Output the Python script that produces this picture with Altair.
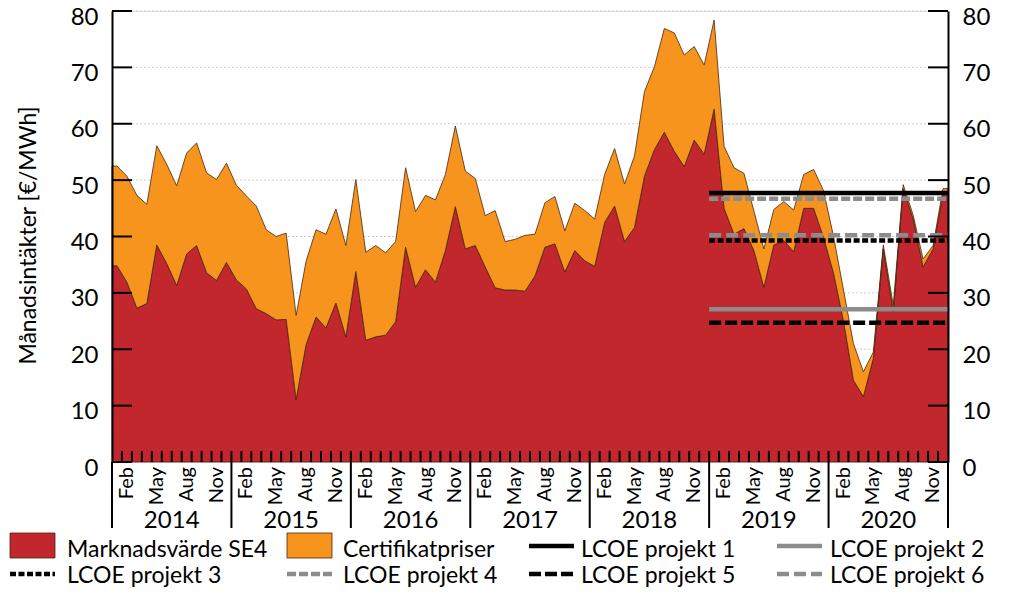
import altair as alt
import pandas as pd

# ---------------- data ----------------
years = ["2014", "2015", "2016", "2017", "2018", "2019", "2020"]
month_names = ["Feb", "May", "Aug", "Nov"]
month_name_index = [1, 4, 7, 10]

# Marknadsvärde SE4, monthly Jan 2014 .. Dec 2020 (EUR/MWh)
market = [
    34.8, 31.9, 27.3, 28.1, 38.5, 35.2, 31.3, 36.9, 38.4, 33.6, 32.2, 35.4,
    32.3, 30.7, 27.2, 26.3, 25.2, 25.3, 11.1, 20.8, 25.7, 23.8, 28.2, 22.2,
    33.8, 21.6, 22.2, 22.5, 24.9, 38.1, 31.0, 34.1, 31.9, 37.5, 45.3, 37.8,
    38.4, 34.6, 30.9, 30.5, 30.5, 30.3, 33.0, 38.1, 38.7, 33.7, 37.5, 35.7,
    34.7, 42.5, 45.4, 39.1, 41.6, 50.7, 55.4, 58.5, 55.1, 52.4, 57.1, 54.6,
    62.6, 45.0, 40.4, 41.4, 37.5, 31.0, 38.5, 39.3, 37.3, 45.0, 45.0, 39.8,
    33.5, 25.0, 14.5, 11.6, 18.4, 37.8, 26.6, 48.5, 43.1, 34.6, 37.8, 47.5,
]
# Certifikatpriser, stacked on top (EUR/MWh)
cert = [
    17.7, 18.8, 20.0, 17.6, 17.6, 17.6, 17.7, 17.9, 18.2, 17.7, 17.9, 17.6,
    16.8, 16.5, 18.2, 14.9, 14.8, 15.3, 14.9, 14.8, 15.5, 16.6, 16.7, 16.2,
    16.3, 15.6, 16.2, 14.6, 14.2, 14.1, 13.4, 13.2, 14.6, 13.5, 14.3, 13.8,
    11.9, 9.1, 13.7, 8.6, 9.0, 9.9, 7.4, 7.9, 8.4, 7.3, 8.4, 8.9,
    8.4, 8.5, 10.2, 10.2, 12.7, 15.0, 14.7, 18.4, 21.0, 19.8, 16.6, 15.8,
    15.8, 11.0, 11.8, 9.8, 7.0, 6.8, 6.3, 6.9, 7.4, 6.0, 6.9, 8.3,
    6.5, 5.5, 6.5, 4.4, 1.1, 0.7, 1.2, 0.7, 0.7, 1.4, 0.6, 1.0,
]

lcoe_names = ["LCOE projekt 1", "LCOE projekt 2", "LCOE projekt 3",
              "LCOE projekt 4", "LCOE projekt 5", "LCOE projekt 6"]
lcoe_values = [47.7, 27.1, 39.3, 46.7, 24.7, 40.2]
lcoe_first_month = 60
lcoe_last_month = 83

y_ticks = [0, 10, 20, 30, 40, 50, 60, 70, 80]

# ---------------- styles ----------------
RED = "#C1272D"
ORANGE = "#F7941D"
OUTLINE = "#4a2510"
GRAY = "#8c8c8c"
FONT = "Lato"
lcoe_colors = ["#000000", GRAY, "#000000", GRAY, "#000000", GRAY]
lcoe_dash = [[1, 0], [1, 0], [6, 2.5], [9, 3], [12, 4], [12, 5]]

W, H = 836, 451
n = len(market)

xs = alt.Scale(domain=[-0.5, n - 0.5], nice=False, zero=False)
ys = alt.Scale(domain=[0, 80], nice=False, zero=True)

# area table (first/last value held to the plot edges)
idx = [-0.5] + list(range(n)) + [n - 0.5]
area_df = pd.DataFrame({
    "x": idx,
    "m": [market[0]] + market + [market[-1]],
    "c": [cert[0]] + cert + [cert[-1]],
})

layers = []

# gridlines
layers.append(
    alt.Chart(pd.DataFrame({"v": y_ticks[1:]}))
    .mark_rule(stroke="#cfcfcf", strokeWidth=1, strokeDash=[2, 2])
    .encode(y=alt.Y("v:Q", scale=ys, axis=None), x=alt.value(0), x2=alt.value(W))
)

left_axis = alt.Axis(
    values=y_ticks, orient="left", grid=False, ticks=False, tickSize=0,
    domainColor="black", domainWidth=2, labelFont=FONT, labelFontSize=24,
    labelColor="black", labelPadding=14, labelOffset=6, labelOverlap=False,
    labelBound=False, labelFlush=False,
    title="Månadsintäkter [€/MWh]", titleFont=FONT, titleFontSize=23,
    titleFontWeight="normal", titleColor="black", titleAngle=270,
    titleX=-84, titleY=224, titleAlign="center", titleBaseline="middle",
    zindex=1,
)
right_axis = alt.Axis(
    values=y_ticks, orient="right", grid=False, ticks=False, tickSize=0,
    domainColor="black", domainWidth=2, labelFont=FONT, labelFontSize=24,
    labelColor="black", labelPadding=14, labelOffset=6, labelOverlap=False,
    labelBound=False, labelFlush=False, title=None, zindex=1,
)
x_axis = alt.Axis(labels=False, ticks=False, grid=False, domainColor="black",
                  domainWidth=2, title=None, zindex=1)

# market area
layers.append(
    alt.Chart(area_df)
    .mark_area(fill=RED, stroke=OUTLINE, strokeWidth=0.8)
    .encode(x=alt.X("x:Q", scale=xs, axis=x_axis),
            y=alt.Y("m:Q", scale=ys, axis=left_axis))
)
# certificate area stacked on top
layers.append(
    alt.Chart(area_df)
    .transform_calculate(total="datum.m + datum.c")
    .mark_area(fill=ORANGE, stroke=OUTLINE, strokeWidth=0.8)
    .encode(x=alt.X("x:Q", scale=xs, axis=None),
            y=alt.Y("total:Q", scale=ys, axis=right_axis),
            y2="m:Q")
)

# LCOE lines
for name, val, col, dash in zip(lcoe_names, lcoe_values, lcoe_colors, lcoe_dash):
    layers.append(
        alt.Chart(pd.DataFrame({"a": [lcoe_first_month - 0.5],
                                "b": [lcoe_last_month + 0.5], "v": [val]}))
        .mark_rule(stroke=col, strokeWidth=4.5, strokeDash=dash)
        .encode(x=alt.X("a:Q", scale=xs, axis=None), x2="b:Q",
                y=alt.Y("v:Q", scale=ys, axis=None))
    )

# y ticks (inward), left and right
ytick_df = pd.DataFrame({"v": y_ticks})
layers.append(
    alt.Chart(ytick_df).mark_rule(stroke="black", strokeWidth=2)
    .encode(y=alt.Y("v:Q", scale=ys, axis=None), x=alt.value(0), x2=alt.value(20))
)
layers.append(
    alt.Chart(ytick_df).mark_rule(stroke="black", strokeWidth=2)
    .encode(y=alt.Y("v:Q", scale=ys, axis=None), x=alt.value(W - 20), x2=alt.value(W))
)

# month ticks (inward) and year separators
layers.append(
    alt.Chart(pd.DataFrame({"b": [k - 0.5 for k in range(1, n)]}))
    .mark_rule(stroke="black", strokeWidth=2)
    .encode(x=alt.X("b:Q", scale=xs, axis=None), y=alt.value(H - 11), y2=alt.value(H))
)
layers.append(
    alt.Chart(pd.DataFrame({"b": [12 * k - 0.5 for k in range(len(years) + 1)]}))
    .mark_rule(stroke="black", strokeWidth=2)
    .encode(x=alt.X("b:Q", scale=xs, axis=None), y=alt.value(H), y2=alt.value(H + 66))
)

# month labels
ml_df = pd.DataFrame({
    "p": [12 * k + m for k in range(len(years)) for m in month_name_index],
    "t": [nm for k in range(len(years)) for nm in month_names],
})
layers.append(
    alt.Chart(ml_df)
    .mark_text(angle=270, align="right", baseline="middle", font=FONT,
               fontSize=20, color="black")
    .encode(x=alt.X("p:Q", scale=xs, axis=None), y=alt.value(H + 5), text="t:N")
)
# year labels
yl_df = pd.DataFrame({"p": [12 * k + 5.5 for k in range(len(years))], "t": years})
layers.append(
    alt.Chart(yl_df)
    .mark_text(align="center", baseline="alphabetic", font=FONT, fontSize=24,
               color="black")
    .encode(x=alt.X("p:Q", scale=xs, axis=None), y=alt.value(H + 66), text="t:N")
)

# ---------------- legend ----------------
one = pd.DataFrame({"k": [0]})


def legend_text(label, x, y):
    return (alt.Chart(one)
            .mark_text(text=label, align="left", baseline="alphabetic", font=FONT,
                       fontSize=23, color="black")
            .encode(x=alt.value(x), y=alt.value(y)))


def legend_box(fill, x, y):
    return (alt.Chart(one)
            .mark_rect(fill=fill, stroke=OUTLINE, strokeWidth=0.8)
            .encode(x=alt.value(x), x2=alt.value(x + 45), y=alt.value(y),
                    y2=alt.value(y + 25)))


def legend_line(col, dash, x, y):
    return (alt.Chart(one)
            .mark_rule(stroke=col, strokeWidth=4.5, strokeDash=dash)
            .encode(x=alt.value(x), x2=alt.value(x + 45), y=alt.value(y)))


row1_box_y, row1_line_y, row1_text_y = 522, 535, 546
row2_line_y, row2_text_y = 563, 572
cols = [(-102, -45), (175, 231), (417, 469), (665, 718)]

layers += [
    legend_box(RED, cols[0][0], row1_box_y),
    legend_text("Marknadsvärde SE4", cols[0][1], row1_text_y),
    legend_box(ORANGE, cols[1][0], row1_box_y),
    legend_text("Certifikatpriser", cols[1][1], row1_text_y),
]
legend_slots = [
    (0, cols[2], row1_line_y, row1_text_y),
    (1, cols[3], row1_line_y, row1_text_y),
    (2, cols[0], row2_line_y, row2_text_y),
    (3, cols[1], row2_line_y, row2_text_y),
    (4, cols[2], row2_line_y, row2_text_y),
    (5, cols[3], row2_line_y, row2_text_y),
]
for k, (sx, tx), ly, ty in legend_slots:
    layers.append(legend_line(lcoe_colors[k], lcoe_dash[k], sx, ly))
    layers.append(legend_text(lcoe_names[k], tx, ty))

chart = (
    alt.layer(*layers)
    .resolve_scale(y="shared")
    .resolve_axis(y="independent")
    .properties(width=W, height=H,
                padding={"left": 104, "right": 68, "top": 3, "bottom": 125},
                autosize=alt.AutoSizeParams(type="none"))
    .configure_view(stroke=None)
    .configure(font=FONT)
)

chart.save("out.html", embed_options={"renderer": "svg", "actions": False})
